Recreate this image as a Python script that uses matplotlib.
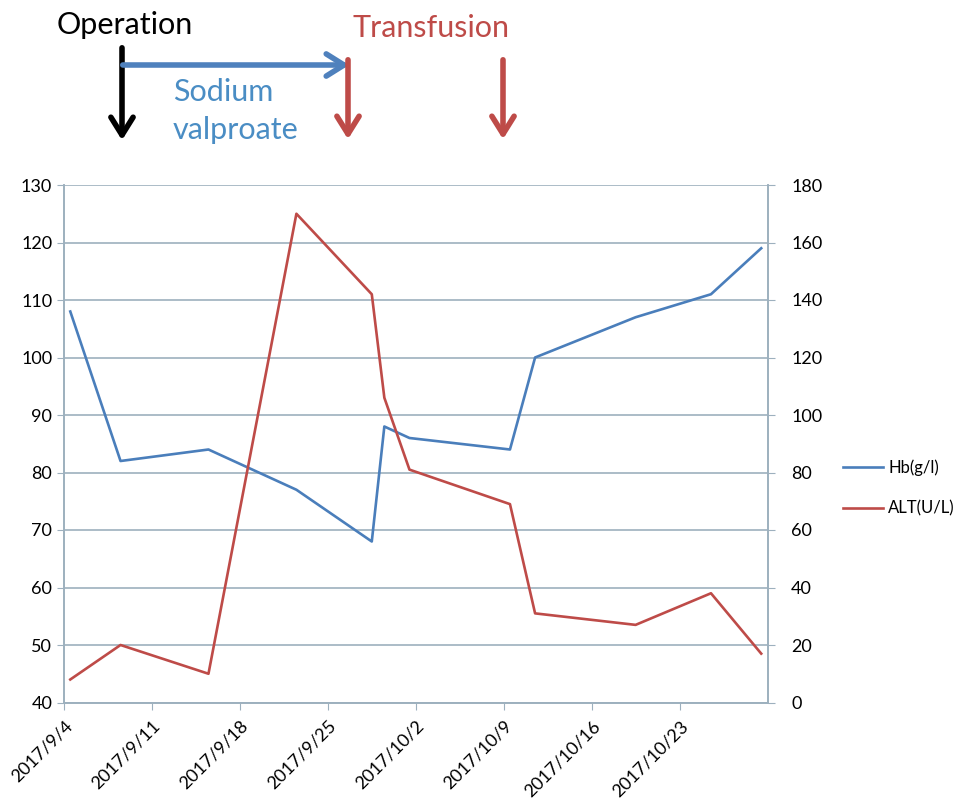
import matplotlib
matplotlib.use("Agg")
import matplotlib.pyplot as plt
import pandas as pd
from matplotlib.patches import FancyArrowPatch

###############################################################################
#Data
###############################################################################
dates = ["2017-09-04", "2017-09-08", "2017-09-15", "2017-09-22", "2017-09-28",
         "2017-09-29", "2017-10-01", "2017-10-09", "2017-10-11", "2017-10-19",
         "2017-10-25", "2017-10-29"]
hb = [108, 82, 84, 77, 68, 88, 86, 84, 100, 107, 111, 119]
alt = [8, 20, 10, 170, 142, 106, 81, 69, 31, 27, 38, 17]

tick_dates = ["2017-09-04", "2017-09-11", "2017-09-18", "2017-09-25",
              "2017-10-02", "2017-10-09", "2017-10-16", "2017-10-23"]
tick_labels = ["2017/9/4", "2017/9/11", "2017/9/18", "2017/9/25",
               "2017/10/2", "2017/10/9", "2017/10/16", "2017/10/23"]

blue = "#4A7EBB"
red = "#BE4B48"
grid = "#9DB0BE"

###############################################################################
#Plot
###############################################################################
plt.rcParams['font.family'] = ["Lato", "DejaVu Sans"]

fig = plt.figure(figsize=(9.6, 8), dpi=100)
ax = fig.add_axes([64/960, 1-702.5/800, (767.5-64)/960, (702.5-185)/800])
ax2 = ax.twinx()

#Points sit in the middle of each day, like the Excel date axis
x = pd.to_datetime(dates) + pd.Timedelta(hours=12)
l1, = ax.plot(x, hb, color=blue, linewidth=1.9, label="Hb(g/l)")
l2, = ax2.plot(x, alt, color=red, linewidth=1.9, label="ALT(U/L)")

ax.set_xlim(pd.Timestamp("2017-09-04"), pd.Timestamp("2017-10-30"))
ax.set_ylim(40, 130)
ax2.set_ylim(0, 180)
ax.set_yticks(range(40, 131, 10))
ax2.set_yticks(range(0, 181, 20))

ax.set_xticks(pd.to_datetime(tick_dates))
ax.set_xticklabels(tick_labels, rotation=45, ha="right", rotation_mode="anchor",
                   fontsize=13)
ax.tick_params(axis="x", colors=grid, labelcolor="black", length=5, pad=6)
ax.tick_params(axis="y", colors=grid, labelcolor="black", length=5,
               labelsize=13)
ax2.tick_params(axis="y", colors=grid, labelcolor="black", length=5,
                labelsize=13, pad=12)

ax.yaxis.grid(True, color=grid, linewidth=1.2)
ax.set_axisbelow(True)
for a in (ax, ax2):
    for s in a.spines.values():
        s.set_color(grid)
        s.set_linewidth(1.2)
    a.spines['top'].set_visible(False)

#Legend
fig.legend(handles=[l1, l2], loc="center left",
           bbox_to_anchor=(828/960, 1-488/800), frameon=False, fontsize=12,
           handlelength=2.4, handletextpad=0.3, labelspacing=1.45)

###############################################################################
#Annotations on top
###############################################################################
def fxy(px, py):
    return (px/960, 1-py/800)

fig.text(*fxy(125, 25), "Operation", color="black", fontsize=22,
         ha="center", va="center")
fig.text(*fxy(431, 28), "Transfusion", color=red, fontsize=22,
         ha="center", va="center")
fig.text(*fxy(173, 92), "Sodium", color="#4A8DC4", fontsize=22,
         ha="left", va="center")
fig.text(*fxy(173, 130), "valproate", color="#4A8DC4", fontsize=22,
         ha="left", va="center")

arrows = [((122, 45), (122, 143), "black"),
          ((120, 65), (352, 65), "#4F81BD"),
          ((348, 57), (348, 142), red),
          ((503, 57), (503, 142), red)]
for start, end, c in arrows:
    arr = FancyArrowPatch(fxy(*start), fxy(*end), transform=fig.transFigure,
                          arrowstyle="->,head_length=8,head_width=5",
                          color=c, linewidth=4, mutation_scale=1.6)
    fig.add_artist(arr)

#Save figure
fig.savefig("out.png", dpi=100)
